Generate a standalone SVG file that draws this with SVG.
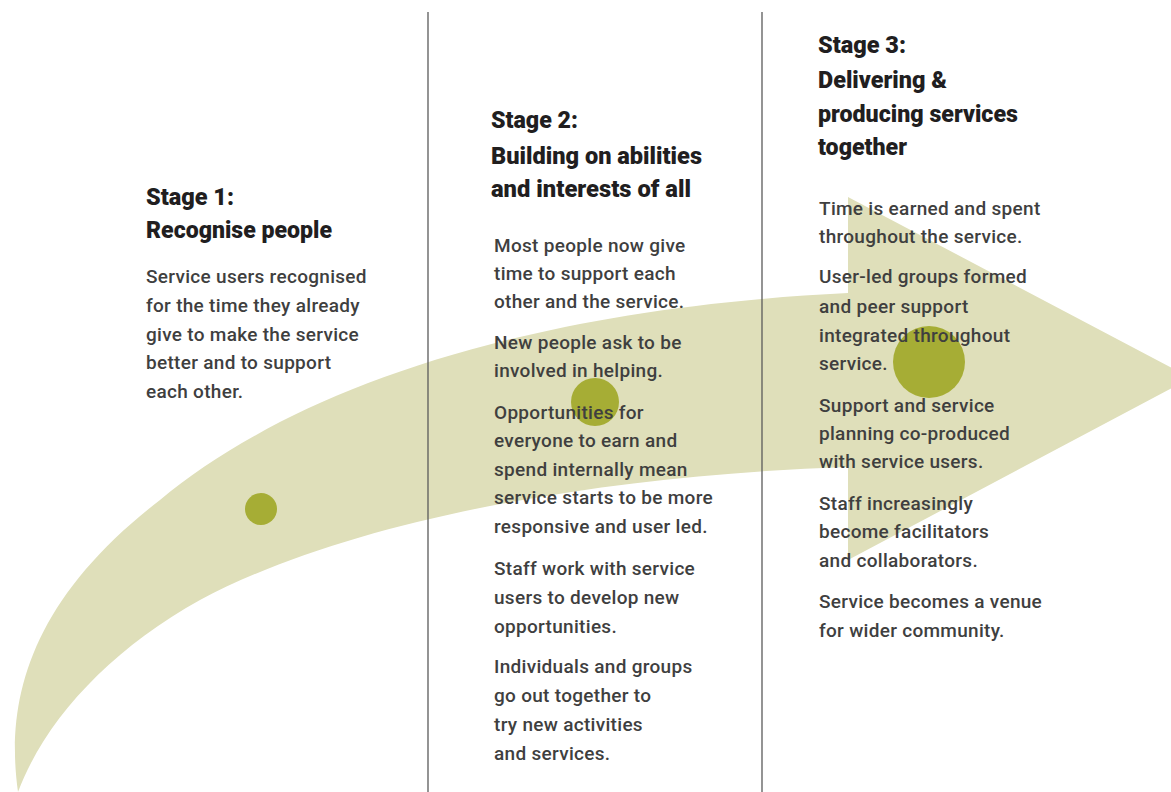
<svg xmlns="http://www.w3.org/2000/svg" width="1171" height="792" viewBox="0 0 1171 792">
<style>
.band{fill:#dfdfba}
.dot{fill:#a6ad35}
.div{stroke:#5a5a5a;stroke-width:1.3}
.t{font-family:Roboto,"Liberation Sans",Arial,sans-serif;font-weight:900;font-size:23px;fill:#211e1f}
.b{font-family:Roboto,"Liberation Sans",Arial,sans-serif;font-weight:500;font-size:19px;fill:#3f3f3f;letter-spacing:0.3px}
</style>
<rect width="1171" height="792" fill="#ffffff"/>
<g id="arrow">
<path class="band" d="M18,792 C5,700 30,600 160,500 C280,400 500,310 848,293 L848,197 L1191,378 L848,560 L848,467 C600,475 350,520 200,600 C110,650 45,720 18,792 Z"/>
<circle class="dot" cx="261" cy="509" r="16"/>
<circle class="dot" cx="595" cy="402" r="24"/>
<circle class="dot" cx="929" cy="362" r="36"/>
</g>
<g id="connectors">
<line class="div" x1="428" y1="12" x2="428" y2="792"/>
<line class="div" x1="762" y1="12" x2="762" y2="792"/>
</g>
<g id="stage1">
<text class="t" x="146" y="205" textLength="88" lengthAdjust="spacingAndGlyphs">Stage 1:</text>
<text class="t" x="146" y="238" textLength="186" lengthAdjust="spacingAndGlyphs">Recognise people</text>
<text class="b" x="146" y="283">Service users recognised</text>
<text class="b" x="146" y="312">for the time they already</text>
<text class="b" x="146" y="341">give to make the service</text>
<text class="b" x="146" y="369">better and to support</text>
<text class="b" x="146" y="398">each other.</text>
</g>
<g id="stage2">
<text class="t" x="491" y="128" textLength="87" lengthAdjust="spacingAndGlyphs">Stage 2:</text>
<text class="t" x="491" y="164" textLength="211" lengthAdjust="spacingAndGlyphs">Building on abilities</text>
<text class="t" x="491" y="197" textLength="200" lengthAdjust="spacingAndGlyphs">and interests of all</text>
<text class="b" x="494" y="252">Most people now give</text>
<text class="b" x="494" y="280">time to support each</text>
<text class="b" x="494" y="308">other and the service.</text>
<text class="b" x="494" y="349">New people ask to be</text>
<text class="b" x="494" y="377">involved in helping.</text>
<text class="b" x="494" y="419">Opportunities for</text>
<text class="b" x="494" y="447">everyone to earn and</text>
<text class="b" x="494" y="476">spend internally mean</text>
<text class="b" x="494" y="504">service starts to be more</text>
<text class="b" x="494" y="533">responsive and user led.</text>
<text class="b" x="494" y="575">Staff work with service</text>
<text class="b" x="494" y="604">users to develop new</text>
<text class="b" x="494" y="633">opportunities.</text>
<text class="b" x="494" y="673">Individuals and groups</text>
<text class="b" x="494" y="702">go out together to</text>
<text class="b" x="494" y="731">try new activities</text>
<text class="b" x="494" y="760">and services.</text>
</g>
<g id="stage3">
<text class="t" x="818" y="53" textLength="88" lengthAdjust="spacingAndGlyphs">Stage 3:</text>
<text class="t" x="818" y="88" textLength="129" lengthAdjust="spacingAndGlyphs">Delivering &amp;</text>
<text class="t" x="818" y="122" textLength="200" lengthAdjust="spacingAndGlyphs">producing services</text>
<text class="t" x="818" y="155" textLength="89" lengthAdjust="spacingAndGlyphs">together</text>
<text class="b" x="819" y="215">Time is earned and spent</text>
<text class="b" x="819" y="243">throughout the service.</text>
<text class="b" x="819" y="283">User-led groups formed</text>
<text class="b" x="819" y="313">and peer support</text>
<text class="b" x="819" y="342">integrated throughout</text>
<text class="b" x="819" y="370">service.</text>
<text class="b" x="819" y="412">Support and service</text>
<text class="b" x="819" y="440">planning co-produced</text>
<text class="b" x="819" y="468">with service users.</text>
<text class="b" x="819" y="510">Staff increasingly</text>
<text class="b" x="819" y="538">become facilitators</text>
<text class="b" x="819" y="567">and collaborators.</text>
<text class="b" x="819" y="608">Service becomes a venue</text>
<text class="b" x="819" y="637">for wider community.</text>
</g>
</svg>
